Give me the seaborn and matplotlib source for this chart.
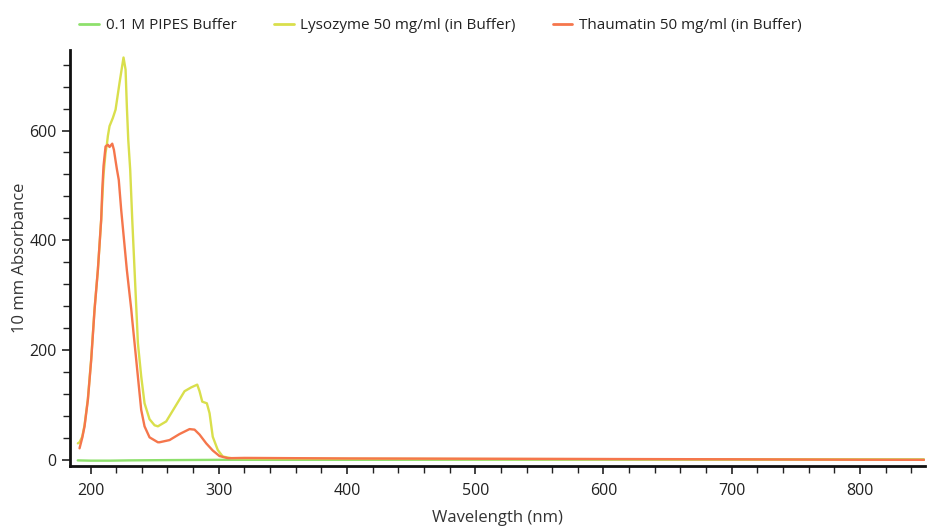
import numpy as np
import pandas as pd
import matplotlib
matplotlib.use("Agg")
import matplotlib.pyplot as plt
from matplotlib.ticker import MultipleLocator
import seaborn as sns

series_names = ["0.1 M PIPES Buffer", "Lysozyme 50 mg/ml (in Buffer)", "Thaumatin 50 mg/ml (in Buffer)"]
colors = ["#8ee06c", "#d9df4c", "#f5764c"]

buffer_wl = [190, 200, 215, 230, 260, 300, 400, 500, 600, 700, 800, 850]
buffer_abs = [-1.0, -1.5, -1.5, -1.0, -0.5, 0.0, 0.0, 0.2, 0.3, 0.4, 0.5, 0.5]

lyso_wl = [190.1, 191.4, 193.5, 195.3, 197.9, 200.5, 203.1, 205.7, 208.3, 210.1, 211.7, 212.7,
           213.5, 214.8, 217.4, 219.5, 222.6, 225.7, 227.3, 228.3, 229.4, 230.9,
           232.5, 234.3, 236.1, 236.9, 239.5, 242.1, 246, 249.9, 252.5, 259, 266.8,
           273.3, 278.5, 283.2, 285, 287.1, 290.7, 292.8, 295.3, 299.2, 303.1, 309.7,
           330, 400, 500, 600, 700, 800, 850]
lyso_abs = [30, 32, 42, 63, 111, 184, 275, 346, 438, 520, 560, 574,
            590, 608, 623, 638, 687, 733, 711, 644, 583, 529,
            438, 346, 255, 213, 152, 103, 74, 63, 61, 70, 100,
            125, 132, 137, 125, 106, 103, 85, 42, 18, 6, 3,
            2.5, 2, 1.5, 1.2, 0.8, 0.5, 0.3]

thau_wl = [191.4, 193.5, 195.3, 197.9, 200.5, 203.1, 205.7, 208.3, 209.1, 210.1, 211.7,
           213.5, 214.8, 216.9, 218.2, 219.5, 220.5, 222, 223.9, 228.3, 231.7, 232.5,
           234.3, 236.9, 239.5, 242.1, 246, 252.5, 253.8, 261.6, 269.4, 277.2, 281.1,
           285, 290.2, 295.3, 300.5, 307, 320, 400, 500, 600, 700, 800, 850]
thau_abs = [21, 40, 61, 109, 182, 273, 346, 438, 490, 535, 571,
            574, 570, 576, 565, 545, 530, 510, 455, 346, 275, 255,
            213, 152, 91, 61, 41, 32, 32, 36, 47, 56, 55,
            46, 30, 17, 7, 3, 3.5, 2.5, 2, 1.5, 1, 0.2, 0]

frames = []
for name, wl, ab in zip(series_names, [buffer_wl, lyso_wl, thau_wl], [buffer_abs, lyso_abs, thau_abs]):
    frames.append(pd.DataFrame({"Wavelength": wl, "Absorbance": ab, "Sample": name}))
df = pd.concat(frames, ignore_index=True)

sns.set_style("white")
plt.rcParams["font.family"] = ["Open Sans", "DejaVu Sans"]

fig = plt.figure(figsize=(9.29, 5.30), dpi=100)
ax = fig.add_axes([0.0754, 0.121, 0.9206, 0.785])

sns.lineplot(data=df, x="Wavelength", y="Absorbance", hue="Sample", hue_order=series_names,
             palette=colors, linewidth=1.7, ax=ax, sort=False, estimator=None)

ax.set_xlim(184, 851)
ax.set_ylim(-11, 747)
ax.xaxis.set_major_locator(MultipleLocator(100))
ax.xaxis.set_minor_locator(MultipleLocator(20))
ax.yaxis.set_major_locator(MultipleLocator(200))
ax.yaxis.set_minor_locator(MultipleLocator(40))
ax.tick_params(axis="both", which="major", direction="out", length=6, width=1.2,
               labelsize=11.5, colors="#222222", bottom=True, left=True)
ax.tick_params(axis="x", which="major", pad=6)
ax.tick_params(axis="both", which="minor", direction="out", length=5, width=1.0,
               bottom=True, left=True, color="#222222")
for s in ["top", "right"]:
    ax.spines[s].set_visible(False)
for s in ["left", "bottom"]:
    ax.spines[s].set_color("#111111")
    ax.spines[s].set_linewidth(2.0)

ax.set_xlabel("Wavelength (nm)", fontsize=12, color="#333333", labelpad=8)
ax.set_ylabel("10 mm Absorbance", fontsize=12, color="#333333", labelpad=1)

leg = ax.legend(loc="lower left", bbox_to_anchor=(0.011, 1.04), ncol=3, frameon=False,
                fontsize=11, handlelength=1.3, columnspacing=2.4, handletextpad=0.45,
                borderaxespad=0, borderpad=0)
for line in leg.get_lines():
    line.set_linewidth(2.0)
for t in leg.get_texts():
    t.set_color("#222222")

fig.savefig("out.png", dpi=100)
